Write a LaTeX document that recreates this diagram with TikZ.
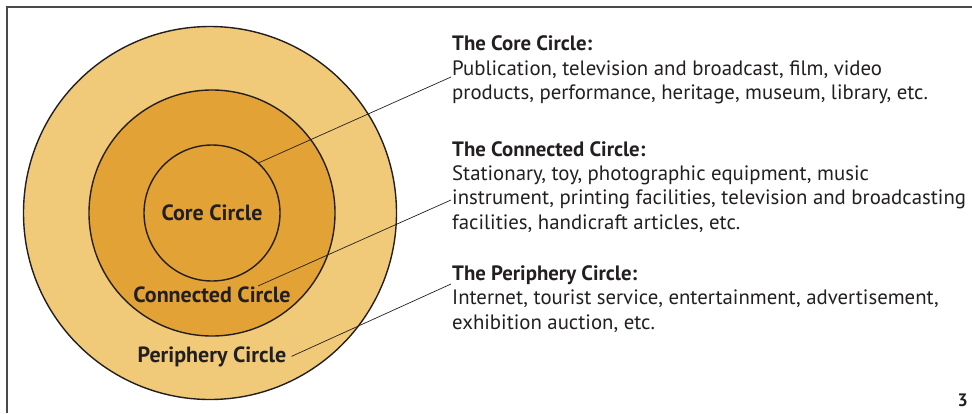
\documentclass[tikz,border=0pt]{standalone}
\usepackage{fontspec}
\setmainfont{PT Sans}
\usetikzlibrary{calc}
\definecolor{ink}{HTML}{231F20}
\definecolor{ringlight}{HTML}{F0CA78}
\definecolor{ringdark}{HTML}{E3A236}
\definecolor{framegray}{HTML}{4A4A4A}
\begin{document}
\begin{tikzpicture}[x=1pt,y=-1pt,
  ring/.style={circle,draw=ink,line width=1.4pt,inner sep=0pt},
  ringlabel/.style={inner sep=0pt,anchor=base,text=ink,font=\fontsize{22}{24}\selectfont\bfseries},
  headline/.style={inner sep=0pt,anchor=base west,text=ink,font=\fontsize{20.8}{24}\selectfont\bfseries},
  bodyline/.style={inner sep=0pt,anchor=base west,text=ink,font=\fontsize{20.8}{24}\selectfont},
  leader/.style={draw=ink,line width=0.7pt}]
\useasboundingbox (0,0) rectangle (972,413);
\clip (0,0) rectangle (972,413);

% frame of the page
\draw[framegray,line width=1.8pt] (7,413) -- (7,7) -- (972,7);

% three nested circles
\node[ring,fill=ringlight,minimum size=373pt] (outer) at (210,213) {};
\node[ring,fill=ringdark,minimum size=246pt] (middle) at (212,213) {};
\node[ring,fill=ringdark,minimum size=136pt] (inner) at (212,213) {};

% labels inside the circles
\node[ringlabel] (corelbl) at (212,220) {Core Circle};
\node[ringlabel] (conlbl) at (212,302) {Connected Circle};
\node[ringlabel] (perilbl) at (212,362) {Periphery Circle};

% descriptions
\node[headline] (corehead) at (452,50) {The Core Circle:};
\node[bodyline] (core1) at (452,75) {Publication, television and broadcast, film, video};
\node[bodyline] (core2) at (452,99) {products, performance, heritage, museum, library, etc.};

\node[headline] (conhead) at (452,156) {The Connected Circle:};
\node[bodyline] (con1) at (452,180) {Stationary, toy, photographic equipment, music};
\node[bodyline] (con2) at (452,204) {instrument, printing facilities, television and broadcasting};
\node[bodyline] (con3) at (452,229) {facilities, handicraft articles, etc.};

\node[headline] (perihead) at (452,280) {The Periphery Circle:};
\node[bodyline] (peri1) at (452,304) {Internet, tourist service, entertainment, advertisement,};
\node[bodyline] (peri2) at (452,329) {exhibition auction, etc.};

% leader lines
\coordinate (constart) at (258,286);
\draw[leader] (inner.47) -- ($(core1.base west)+(-1,2)$);
\draw[leader] (constart) -- ($(con2.base west)+(-1,-4)$);
\draw[leader] ($(perilbl.east)+(5,0)$) -- ($(perihead.base west)+(-1,4)$);

% page number
\node[inner sep=0pt,anchor=base east,text=ink,font=\fontsize{18}{20}\selectfont\bfseries] (pagenum) at (968,406) {3};
\end{tikzpicture}
\end{document}
